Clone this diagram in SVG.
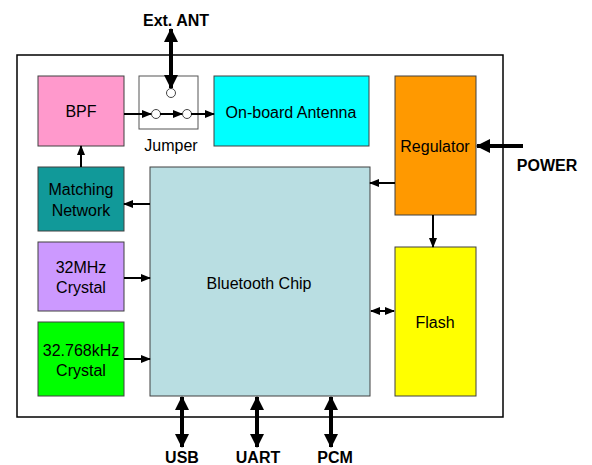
<svg xmlns="http://www.w3.org/2000/svg" width="592" height="465" viewBox="0 0 592 465">
<style>
.box{stroke:#404040;stroke-width:1}
.t{font-family:"Liberation Sans",Arial,sans-serif;font-size:16px;fill:#000;text-anchor:middle}
.b{font-family:"Liberation Sans",Arial,sans-serif;font-size:16px;font-weight:bold;fill:#000;text-anchor:middle}
.thin{stroke:#000;stroke-width:2;fill:none}
.thick{stroke:#000;stroke-width:4;fill:none}
</style>
<defs>
<marker id="a" markerUnits="userSpaceOnUse" markerWidth="10" markerHeight="10" viewBox="0 0 10 10" refX="9" refY="5" orient="auto-start-reverse"><path d="M0,1 L10,5 L0,9 Z" fill="#000"/></marker>
<marker id="A" markerUnits="userSpaceOnUse" markerWidth="14" markerHeight="14" viewBox="0 0 14 14" refX="13" refY="7" orient="auto-start-reverse"><path d="M0,0 L14,7 L0,14 Z" fill="#000"/></marker>
</defs>
<rect x="0" y="0" width="592" height="465" fill="#fff"/>
<rect x="17" y="55" width="486" height="362" fill="none" stroke="#000" stroke-width="1.5"/>

<g id="bpf"><rect class="box" x="38" y="76" width="86" height="70" fill="#FF99CC"/><text class="t" x="81" y="117">BPF</text></g>
<g id="jumper"><rect x="139" y="76" width="59" height="53" fill="#fff" stroke="#555" stroke-width="1"/>
<circle cx="171" cy="93" r="4.5" fill="#fff" stroke="#444"/>
<circle cx="156" cy="114" r="4.5" fill="#fff" stroke="#444"/>
<circle cx="187" cy="114" r="4.5" fill="#fff" stroke="#444"/>
<text class="t" x="171" y="151">Jumper</text></g>
<g id="antenna"><rect class="box" x="214" y="76" width="155" height="70" fill="#00FFFF"/><text class="t" x="291" y="118">On-board Antenna</text></g>
<g id="regulator"><rect class="box" x="395" y="76" width="81" height="139" fill="#FF9900"/><text class="t" x="435" y="152">Regulator</text></g>
<g id="flash"><rect class="box" x="395" y="247" width="81" height="149" fill="#FFFF00"/><text class="t" x="435" y="328">Flash</text></g>
<g id="matching"><rect class="box" x="38" y="167" width="86" height="64" fill="#119999"/><text class="t" x="81" y="195">Matching</text><text class="t" x="81" y="216">Network</text></g>
<g id="xtal32m"><rect class="box" x="38" y="242" width="86" height="69" fill="#CC99FF"/><text class="t" x="81" y="273">32MHz</text><text class="t" x="81" y="293">Crystal</text></g>
<g id="xtal32k"><rect class="box" x="38" y="322" width="86" height="74" fill="#00FF00"/><text class="t" x="81" y="356">32.768kHz</text><text class="t" x="81" y="376">Crystal</text></g>
<g id="chip"><rect class="box" x="150" y="167" width="220" height="229" fill="#B9DEE2"/><text class="t" x="259" y="289">Bluetooth Chip</text></g>

<g id="labels">
<text class="b" x="176" y="26">Ext. ANT</text>
<text class="b" x="547" y="171">POWER</text>
<text class="b" x="182" y="463">USB</text>
<text class="b" x="258" y="463">UART</text>
<text class="b" x="335" y="463">PCM</text>
</g>

<g id="connectors">
<line class="thin" x1="124" y1="114" x2="151" y2="114" marker-end="url(#a)"/>
<line class="thin" x1="160" y1="114" x2="182" y2="114" marker-end="url(#a)"/>
<line class="thin" x1="191" y1="114" x2="214" y2="114" marker-end="url(#a)"/>
<line class="thick" x1="171" y1="29" x2="171" y2="88" marker-start="url(#A)" marker-end="url(#A)"/>
<line class="thick" x1="523" y1="146" x2="477" y2="146" marker-end="url(#A)"/>
<line class="thin" x1="395" y1="183" x2="370" y2="183" marker-end="url(#a)"/>
<line class="thin" x1="433" y1="215" x2="433" y2="247" marker-end="url(#a)"/>
<line class="thin" x1="371" y1="311" x2="394" y2="311" marker-start="url(#a)" marker-end="url(#a)"/>
<line class="thin" x1="150" y1="204" x2="124" y2="204" marker-end="url(#a)"/>
<line class="thin" x1="81" y1="167" x2="81" y2="146" marker-end="url(#a)"/>
<line class="thin" x1="124" y1="278" x2="150" y2="278" marker-end="url(#a)"/>
<line class="thin" x1="124" y1="359" x2="150" y2="359" marker-end="url(#a)"/>
<line class="thick" x1="182" y1="397" x2="182" y2="447" marker-start="url(#A)" marker-end="url(#A)"/>
<line class="thick" x1="257" y1="397" x2="257" y2="447" marker-start="url(#A)" marker-end="url(#A)"/>
<line class="thick" x1="331" y1="397" x2="331" y2="447" marker-start="url(#A)" marker-end="url(#A)"/>
</g>
</svg>
